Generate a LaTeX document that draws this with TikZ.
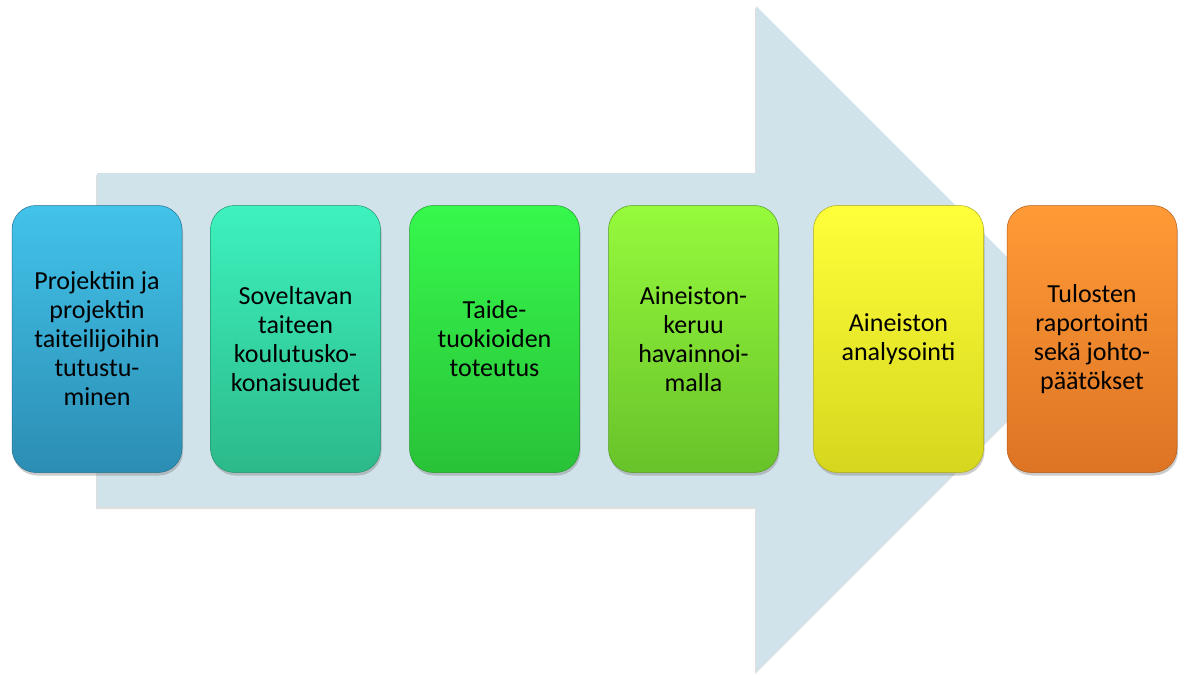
\documentclass[tikz,border=0pt]{standalone}
\usepackage{fontspec}
\setmainfont{Carlito}
\usetikzlibrary{shadows}

\definecolor{arrowbg}{HTML}{D0E2EA}
\definecolor{blueT}{HTML}{42C3EA}
\definecolor{blueB}{HTML}{2C8DB3}
\definecolor{tealT}{HTML}{3DF2BE}
\definecolor{tealB}{HTML}{2CB98A}
\definecolor{greenT}{HTML}{36F84C}
\definecolor{greenB}{HTML}{29C238}
\definecolor{limeT}{HTML}{96FA3C}
\definecolor{limeB}{HTML}{68C22A}
\definecolor{yellowT}{HTML}{FFFF3A}
\definecolor{yellowB}{HTML}{D6D61E}
\definecolor{orangeT}{HTML}{FF9A36}
\definecolor{orangeB}{HTML}{DC7424}

\begin{document}
\begin{tikzpicture}[x=1pt, y=-1pt,
    phase/.style={rounded corners=24pt, minimum width=170pt, minimum height=267pt,
      inner sep=0pt, align=center, font=\fontsize{26}{29}\selectfont,
      drop shadow={shadow xshift=1pt, shadow yshift=-3pt, opacity=0.4}}]
      \def\midy{339}% middle line of the arrow
      \def\shaftx{97}
      \def\headx{756}
      \def\tipx{1089}
      \useasboundingbox (0,0) rectangle (1184,675);
      % -------------------------------------------- big arrow
      \fill[arrowbg, drop shadow={shadow xshift=-1pt, shadow yshift=-2pt, opacity=0.25}]
        (\shaftx,173) -- (\headx,173) -- (\headx,6) -- (\tipx,\midy)
        -- (\headx,672) -- (\headx,507) -- (\shaftx,507) -- cycle;
      % -------------------------------------------- phases
      \node[phase, top color=blueT, bottom color=blueB, draw=blueB!80!black, line width=0.5pt]
        at (97,\midy) (tutustuminen) {Projektiin ja\\projektin\\taiteilijoihin\\tutustu-\\minen};
      \node[phase, top color=tealT, bottom color=tealB, draw=tealB!80!black, line width=0.5pt]
        at (295.5,\midy) (koulutus) {Soveltavan\\taiteen\\koulutusko-\\konaisuudet};
      \node[phase, top color=greenT, bottom color=greenB, draw=greenB!80!black, line width=0.5pt]
        at (494.5,\midy) (toteutus) {Taide-\\tuokioiden\\toteutus};
      \node[phase, top color=limeT, bottom color=limeB, draw=limeB!80!black, line width=0.5pt]
        at (693.5,\midy) (keruu) {Aineiston-\\keruu\\havainnoi-\\malla};
      \node[phase, top color=yellowT, bottom color=yellowB, draw=yellowB!80!black, line width=0.5pt]
        at (898.5,\midy) (analyysi) {Aineiston\\analysointi};
      \node[phase, top color=orangeT, bottom color=orangeB, draw=orangeB!80!black, line width=0.5pt]
        at (1092,\midy) (raportointi) {Tulosten\\raportointi\\sekä johto-\\päätökset};
\end{tikzpicture}
\end{document}
